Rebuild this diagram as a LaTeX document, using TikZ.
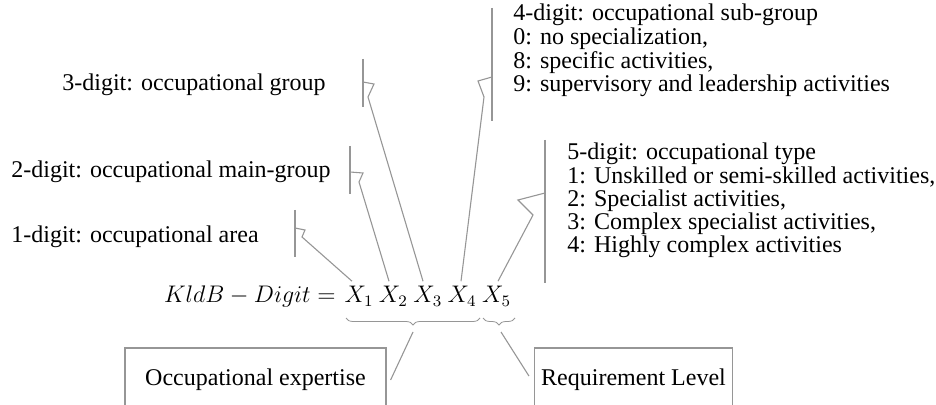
\documentclass[tikz,border=0pt]{standalone}
\usepackage{fontspec}
\setmainfont{Liberation Serif}
\usetikzlibrary{positioning, decorations.pathreplacing}
\definecolor{leadgray}{RGB}{150,150,150}
\tikzset{lbl/.style={inner sep=0pt, anchor=base west, align=left, font=\fontsize{12}{10.8}\selectfont}}
\tikzset{lead/.style={draw=leadgray, line width=0.55pt}}
\tikzset{accent/.style={draw=leadgray, line width=0.7pt}}
\tikzset{xdig/.style={inner sep=2.5pt, font=\fontsize{12}{14}\selectfont}}
\tikzset{ubrace/.style={draw=leadgray, line width=0.4pt, decorate, decoration={brace, mirror, amplitude=3.5pt}}}
\tikzset{cbox/.style={draw=leadgray, line width=0.6pt, minimum height=32pt, font=\fontsize{12}{14}\selectfont}}

\begin{document}
\begin{tikzpicture}[x=0.5pt, y=-0.5pt, node distance=17.2pt]
\clip (0,0) rectangle (936,405);
\node[inner sep=0pt, anchor=base east, font=\fontsize{12}{14}\selectfont] (kldb) at (336,303) {$KldB - Digit =$};
\node[xdig, anchor=base] (x1) at (359,303) {$X_1$};
\node[xdig] (x2) [right of=x1] {$X_2$};
\node[xdig] (x3) [right of=x2] {$X_3$};
\node[xdig] (x4) [right of=x3] {$X_4$};
\node[xdig] (x5) [right of=x4] {$X_5$};

\node[lbl] (t1) at (11,243) {1-digit: occupational area};
\node[lbl] (t2) at (11,178) {2-digit: occupational main-group};
\node[lbl] (t3) at (62,91) {3-digit: occupational group};
\node[lbl] (t4) at (513,92) {4-digit: occupational sub-group\\0: no specialization,\\8: specific activities,\\9: supervisory and leadership activities};
\node[lbl, font=\fontsize{12}{11.65}\selectfont] (t5) at (567,253) {5-digit: occupational type\\1: Unskilled or semi-skilled activities,\\2: Specialist activities,\\3: Complex specialist activities,\\4: Highly complex activities};

\coordinate (c1) at (295,228);
\coordinate (c2) at (350,172);
\coordinate (c3) at (363,82);
\coordinate (c4) at (492,77);
\coordinate (c5) at (545,193);
\draw[accent] (c1) +(0,-18) -- +(0,29);
\draw[accent] (c2) +(0,-26) -- +(0,22);
\draw[accent] (c3) +(0,-23) -- +(0,25);
\draw[accent] (c4) +(0,-69) -- +(0,44);
\draw[accent] (c5) +(0,-53) -- +(0,90);
\draw[lead] (c1) -- ++(10,2) -- ++(-3,7) -- ([xshift=-3.5pt]x1.north);
\draw[lead] (c2) -- ++(13,1) -- ++(-4,9) -- ([xshift=-2.2pt]x2.north);
\draw[lead] (c3) -- ++(11,2) -- ++(-6,13) -- ([xshift=-2.4pt]x3.north);
\draw[lead] (c4) -- ++(-14,4) -- ++(6,16) -- ([xshift=-0.6pt]x4.north);
\draw[lead] (c5) -- ++(-27,7) -- ++(15,15) -- ([xshift=0.7pt]x5.north);

\draw[ubrace] (346,318) -- (480,318);
\draw[ubrace] (483,318) -- (515,318);
\coordinate (b1) at (413,332);
\coordinate (b2) at (501,332);

\node[cbox, minimum width=130.5pt] (expert) at (255.5,380) {Occupational expertise};
\node[cbox, minimum width=98.5pt] (reqlvl) at (633.5,380) {Requirement Level};
\draw[lead] (b1) -- ([xshift=2pt]expert.east);
\draw[lead] (b2) -- ([xshift=-2.5pt, yshift=2pt]reqlvl.west);
\end{tikzpicture}
\end{document}
